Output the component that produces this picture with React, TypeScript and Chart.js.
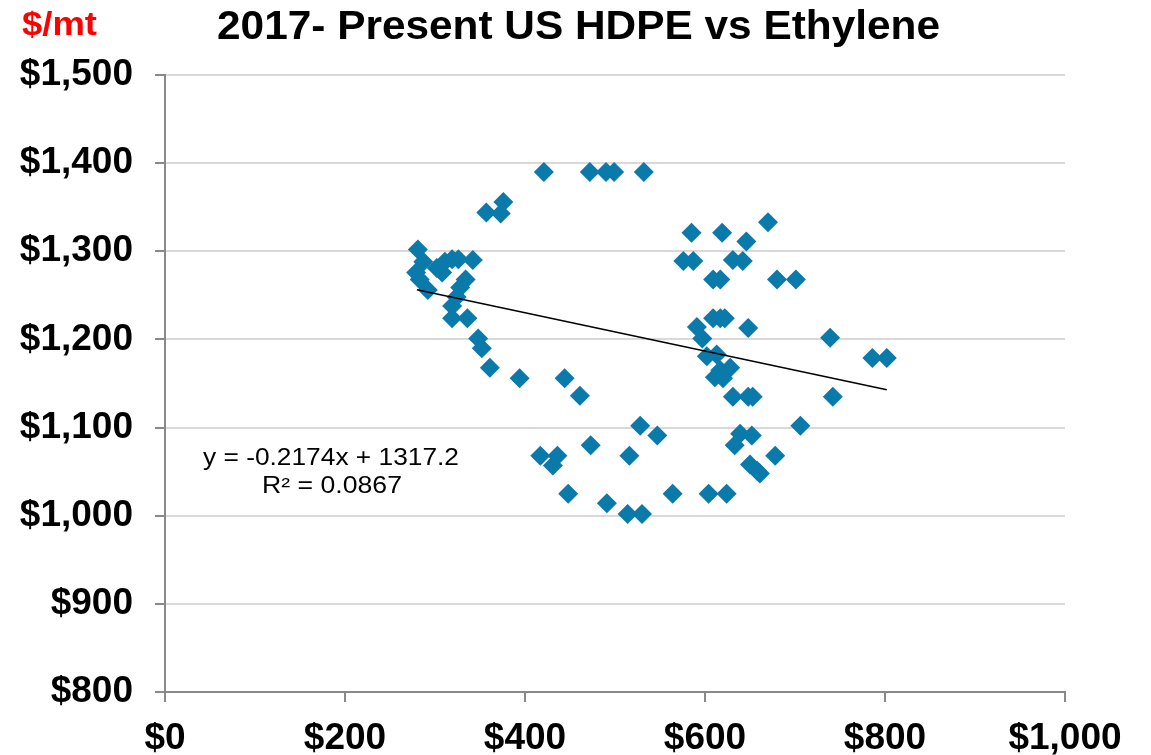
import React, { useEffect, useRef } from "react";
import { Chart, registerables } from "chart.js";

Chart.register(...registerables);

// Ethylene price ($/mt) — x values
const ethylenePrices = [
  421, 472, 490, 499, 532,
  357, 376, 373,
  281, 287, 279, 283, 292, 302, 311, 319, 326, 308, 342, 334, 328, 324, 319, 319, 336,
  348, 352, 361, 394, 444, 461,
  417, 436, 431, 473, 528, 547, 516, 448, 491, 514, 530, 564, 604, 624,
  633, 639, 652, 706, 678, 650, 658, 661,
  631, 648, 653, 742, 611, 620, 617, 628, 602, 613, 597, 591, 648, 609, 617, 622,
  739, 786, 802, 609, 617, 680, 701, 576, 587, 631, 642, 585, 619, 646, 670,
];

// US HDPE price ($/mt) — y values
const hdpePrices = [
  1390, 1390, 1390, 1390, 1390,
  1344, 1356, 1343,
  1302, 1288, 1276, 1268, 1256, 1281, 1288, 1291, 1291, 1276, 1290, 1268, 1259, 1248, 1238, 1224, 1224,
  1201, 1190, 1168, 1156, 1156, 1136,
  1068, 1068, 1057, 1080, 1102, 1091, 1068, 1025, 1014, 1002, 1002, 1025, 1025, 1025,
  1080, 1093, 1091, 1102, 1068, 1058, 1051, 1048,
  1135, 1135, 1135, 1135, 1157, 1156, 1165, 1168, 1181, 1183, 1201, 1214, 1213, 1224, 1224, 1224,
  1202, 1179, 1179, 1268, 1268, 1268, 1268, 1289, 1289, 1290, 1289, 1321, 1321, 1311, 1333,
];

// Linear trendline shown in the chart
const trendSlope = -0.2174;
const trendIntercept = 1317.2;
const trendRange = [280, 802];

const titleText = "2017- Present US HDPE vs Ethylene";
const unitText = "$/mt";
const equationText = "y = -0.2174x + 1317.2";
const r2Text = "R² = 0.0867";

const FONT = "'Liberation Sans', Arial, Helvetica, sans-serif";

function stretchedText(ctx: any, text: string, font: string, left: number, baseline: number, width: number) {
  ctx.save();
  ctx.font = font;
  ctx.textAlign = "left";
  ctx.textBaseline = "alphabetic";
  const w = ctx.measureText(text).width;
  ctx.translate(left, baseline);
  ctx.scale(width / w, 1);
  ctx.fillText(text, 0, 0);
  ctx.restore();
}

const textPlugin = {
  id: "customText",
  afterDraw(chart: any) {
    const ctx = chart.ctx;
    ctx.save();
    ctx.fillStyle = "#ff0000";
    stretchedText(ctx, unitText, `bold 33px ${FONT}`, 22, 35, 75);
    ctx.fillStyle = "#000000";
    stretchedText(ctx, titleText, `bold 40px ${FONT}`, 217, 39, 723);
    stretchedText(ctx, equationText, `23px ${FONT}`, 203, 465, 256);
    stretchedText(ctx, r2Text, `23px ${FONT}`, 262, 493, 140);
    ctx.restore();
  },
};

export default function App() {
  const ref = useRef<HTMLCanvasElement>(null);

  useEffect(() => {
    document.body.style.margin = "0";
    const points = ethylenePrices.map((x, i) => ({ x, y: hdpePrices[i] }));
    const trend = trendRange.map((x) => ({ x, y: trendSlope * x + trendIntercept }));
    const chart = new Chart(ref.current as HTMLCanvasElement, {
      type: "scatter",
      data: {
        datasets: [
          {
            type: "line",
            data: trend,
            borderColor: "#000000",
            borderWidth: 1.5,
            pointRadius: 0,
            fill: false,
            order: 0,
          } as any,
          {
            data: points,
            pointStyle: "rectRot",
            pointRadius: 10,
            pointHoverRadius: 10,
            backgroundColor: "#0a7aab",
            borderWidth: 0,
            order: 1,
          },
        ],
      },
      options: {
        animation: false,
        responsive: false,
        devicePixelRatio: 1,
        layout: { padding: { left: 0, top: 75, right: 86, bottom: 0 } },
        plugins: { legend: { display: false }, tooltip: { enabled: false }, title: { display: false } },
        scales: {
          x: {
            type: "linear",
            min: 0,
            max: 1000,
            afterFit: (s: any) => {
              s.height = 63;
            },
            ticks: {
              stepSize: 200,
              padding: 15,
              color: "#000000",
              font: { family: FONT, size: 37, weight: "bold" },
              callback: (v: any) => "$" + Number(v).toLocaleString("en-US"),
            },
            grid: { drawOnChartArea: false, tickColor: "#898989", tickLength: 10, lineWidth: 2 },
            border: { color: "#898989", width: 2 },
          },
          y: {
            type: "linear",
            min: 800,
            max: 1500,
            afterFit: (s: any) => {
              s.width = 165;
            },
            ticks: {
              stepSize: 100,
              padding: 22,
              color: "#000000",
              font: { family: FONT, size: 37, weight: "bold" },
              callback: (v: any) => "$" + Number(v).toLocaleString("en-US"),
            },
            grid: {
              color: (c: any) => (c.index === 0 ? "rgba(0,0,0,0)" : "#d9d9d9"),
              tickColor: "#898989",
              tickLength: 10,
              lineWidth: 2,
            },
            border: { color: "#898989", width: 2 },
          },
        },
      },
      plugins: [textPlugin],
    });
    return () => chart.destroy();
  }, []);

  return (
    <div style={{ position: "fixed", left: 0, top: 0, width: 1151, height: 755, background: "#fff" }}>
      <canvas ref={ref} width={1151} height={755} style={{ width: 1151, height: 755 }} />
    </div>
  );
}
